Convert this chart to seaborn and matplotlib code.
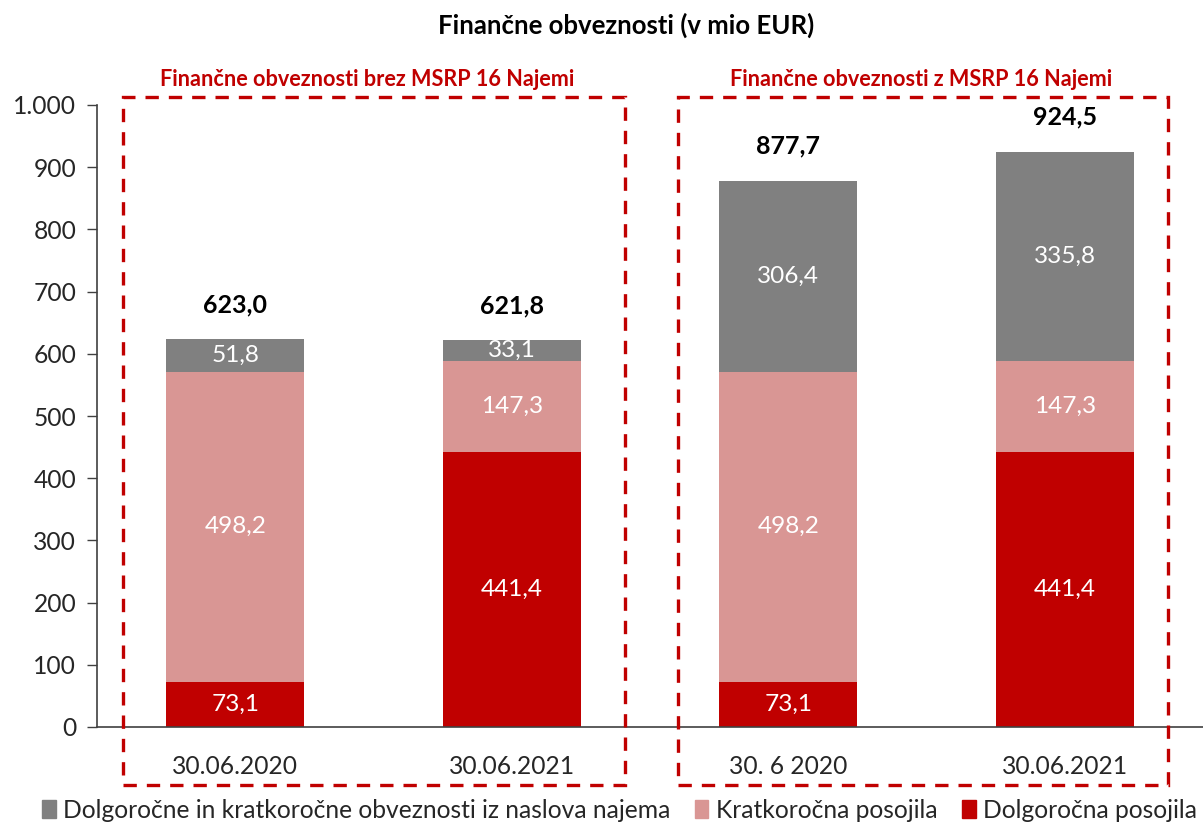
import matplotlib
matplotlib.use("Agg")
import matplotlib.pyplot as plt
import seaborn as sns
import pandas as pd
import numpy as np
from matplotlib.patches import Rectangle

categories = ["30.06.2020", "30.06.2021", "30. 6 2020", "30.06.2021"]
dolgorocna = [73.1, 441.4, 73.1, 441.4]
kratkorocna = [498.2, 147.3, 498.2, 147.3]
najem = [51.8, 33.1, 306.4, 335.8]
totals = [623.0, 621.8, 877.7, 924.5]
total_labels = ["623,0", "621,8", "877,7", "924,5"]

series_names = ["Dolgoročne in kratkoročne obveznosti iz naslova najema",
                "Kratkoročna posojila", "Dolgoročna posojila"]
c_gray = "#808080"
c_pink = "#D99694"
c_red = "#C00000"

sns.set_theme(style="white")
plt.rcParams["font.family"] = ["Lato", "DejaVu Sans"]

fig = plt.figure(figsize=(12.03, 8.25), dpi=100)
ax = fig.add_axes([97/1203, 1-727/825, 1-97/1203, (727-105)/825])

pos = list(range(len(categories)))
d = np.array(dolgorocna)
k = np.array(kratkorocna)
n = np.array(najem)
df = pd.DataFrame({"pos": pos, "top": d + k + n, "mid": d + k, "low": d})

for col, c, lab in [("top", c_gray, series_names[0]), ("mid", c_pink, series_names[1]),
                    ("low", c_red, series_names[2])]:
    sns.barplot(data=df, x="pos", y=col, color=c, width=0.5, ax=ax, saturation=1,
                label=lab, native_scale=True, linewidth=0, edgecolor="none")

ax.set_xlim(-0.5, 3.5)
ax.set_ylim(0, 1000)
ax.set_yticks(range(0, 1001, 100))
ax.set_yticklabels([f"{v:,}".replace(",", ".") for v in range(0, 1001, 100)], fontsize=17.7)
ax.set_xticks(pos)
ax.set_xticklabels(categories, fontsize=17.7)
ax.set_xlabel("")
ax.set_ylabel("")
ax.tick_params(axis="y", which="both", left=True, length=7, width=1, color="#404040", pad=8)
ax.tick_params(axis="x", bottom=False, pad=14)
for s in ["top", "right"]:
    ax.spines[s].set_visible(False)
for s in ["left", "bottom"]:
    ax.spines[s].set_color("#404040")
    ax.spines[s].set_linewidth(1.2)

# segment labels
for i in pos:
    segs = [(d[i], 0), (k[i], d[i]), (n[i], d[i] + k[i])]
    for val, base in segs:
        ax.text(i, base + val / 2, f"{val:.1f}".replace(".", ","), ha="center", va="center",
                color="white", fontsize=17.6)
    ax.annotate(total_labels[i], (i, totals[i]), xytext=(0, 25), textcoords="offset points",
                ha="center", va="center", fontsize=18, fontweight="bold", color="black")

# title and subtitles
fig.text(626/1203, 1-25/825, "Finančne obveznosti (v mio EUR)", ha="center", va="center",
         fontsize=18.5, fontweight="bold", color="black")
fig.text(367/1203, 1-80/825, "Finančne obveznosti brez MSRP 16 Najemi", ha="center", va="center",
         fontsize=15.6, fontweight="bold", color=c_red)
fig.text(921/1203, 1-80/825, "Finančne obveznosti z MSRP 16 Najemi", ha="center", va="center",
         fontsize=15.6, fontweight="bold", color=c_red)

# dashed boxes
for (x0, x1) in [(123, 625), (678, 1168)]:
    y0, y1 = 97, 785
    r = Rectangle((x0/1203, 1-y1/825), (x1-x0)/1203, (y1-y0)/825, transform=fig.transFigure,
                  fill=False, edgecolor=c_red, linewidth=2.4, linestyle=(0, (4, 3)), clip_on=False)
    fig.patches.append(r)

# legend
if ax.get_legend():
    ax.get_legend().remove()
handles = [Rectangle((0, 0), 1, 1, color=c) for c in [c_gray, c_pink, c_red]]
fig.legend(handles, series_names, loc="center", bbox_to_anchor=(0.515, 1-810/825), ncol=3,
           frameon=False, fontsize=17.7, handlelength=0.55, handleheight=0.8, handletextpad=0.3,
           columnspacing=1.0, borderaxespad=0)

fig.savefig("out.png", dpi=100)
